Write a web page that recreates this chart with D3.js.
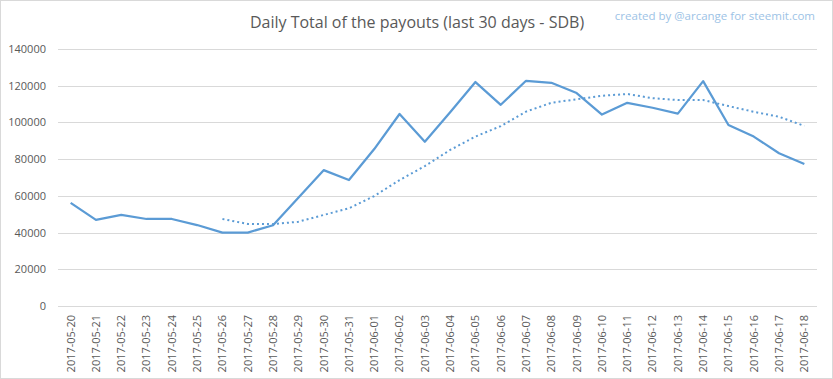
<!DOCTYPE html>
<html><head><meta charset="utf-8">
<script src="https://cdn.jsdelivr.net/npm/d3@7"></script>
<style>body{margin:0;background:#fff}svg{display:block}</style>
</head><body>
<svg id="c" width="833" height="379"></svg>
<script>
const dates = ["2017-05-20","2017-05-21","2017-05-22","2017-05-23","2017-05-24","2017-05-25","2017-05-26","2017-05-27","2017-05-28","2017-05-29","2017-05-30","2017-05-31","2017-06-01","2017-06-02","2017-06-03","2017-06-04","2017-06-05","2017-06-06","2017-06-07","2017-06-08","2017-06-09","2017-06-10","2017-06-11","2017-06-12","2017-06-13","2017-06-14","2017-06-15","2017-06-16","2017-06-17","2017-06-18"];
const payouts = [56200,46900,49600,47400,47400,44100,40000,40000,44000,59000,74000,68600,85500,104600,89500,105500,122000,109600,122700,121600,116000,104300,110700,108000,104800,122500,98600,92300,83200,77400];
const movingAvg = [null,null,null,null,null,null,47400,44700,44600,45900,49600,53200,59900,68600,76200,85000,92300,98000,105900,110700,112600,114500,115500,113200,112200,112200,108900,105800,103100,98100];
const yTicks = [0,20000,40000,60000,80000,100000,120000,140000];
const title = "Daily Total of the payouts (last 30 days - SDB)";
const credit = "created by @arcange for steemit.com";

(function(){
const svg = d3.select("#c");
const W = 833, H = 379;
const pL = 58, pR = 817, pT = 49, pB = 306;
const font = "'Open Sans', 'Liberation Sans', sans-serif";

svg.append("rect").attr("x",0.5).attr("y",0.5).attr("width",W-1).attr("height",H-1)
  .attr("fill","#fff").attr("stroke","#d9d9d9");

const x = d3.scaleBand().domain(dates).range([pL,pR]);
const y = d3.scaleLinear().domain([0,140000]).range([pB,pT]);

svg.append("g").selectAll("line").data(yTicks).join("line")
  .attr("x1",pL).attr("x2",pR)
  .attr("y1",d=>Math.round(y(d))+0.5).attr("y2",d=>Math.round(y(d))+0.5)
  .attr("stroke","#d9d9d9").attr("stroke-width",1);

const yAxis = d3.axisLeft(y).tickValues(yTicks).tickSize(0).tickPadding(0).tickFormat(d3.format("d"));
const gy = svg.append("g").attr("transform",`translate(46,0)`).call(yAxis);
gy.select(".domain").remove();
gy.selectAll("text").attr("fill","#595959").style("font-family",font).style("font-size","11px");

const xAxis = d3.axisBottom(x).tickSize(0).tickPadding(0);
const gx = svg.append("g").attr("transform",`translate(0,${pB})`).call(xAxis);
gx.select(".domain").remove();
gx.selectAll("text")
  .attr("fill","#595959").style("font-family",font).style("font-size","11px")
  .attr("text-anchor","end").attr("dy","0.35em")
  .attr("transform","translate(0,9) rotate(-90)").attr("x",0).attr("y",0);

const cx = d => x(d) + x.bandwidth()/2;
const line = d3.line().defined(d=>d[1]!=null).x(d=>cx(d[0])).y(d=>y(d[1]));

svg.append("path").datum(dates.map((d,i)=>[d,movingAvg[i]]))
  .attr("d",line).attr("fill","none").attr("stroke","#5b9bd5")
  .attr("stroke-width",2).attr("stroke-dasharray","2,3");

svg.append("path").datum(dates.map((d,i)=>[d,payouts[i]]))
  .attr("d",line).attr("fill","none").attr("stroke","#5b9bd5")
  .attr("stroke-width",2.25).attr("stroke-linejoin","round");

svg.append("text").attr("x",417).attr("y",28).attr("text-anchor","middle")
  .attr("fill","#595959").style("font-family",font).style("font-size","16px").text(title);

svg.append("text").attr("x",815).attr("y",20).attr("text-anchor","end")
  .attr("fill","#9dc3e6").style("font-family",font).style("font-size","11.5px").text(credit);
})();
</script>
</body></html>
